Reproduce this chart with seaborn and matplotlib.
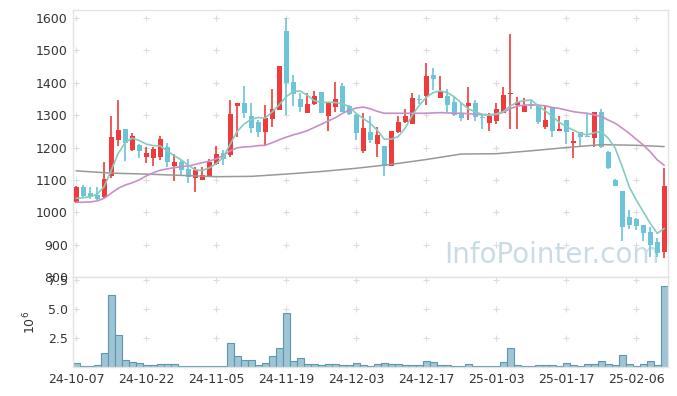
import matplotlib
matplotlib.use("Agg")
import numpy as np
import matplotlib.pyplot as plt
import seaborn as sns

# one label every 10 sessions (session index 0, 10, ... 80)
tick_labels = ["24-10-07", "24-10-22", "24-11-05", "24-11-19", "24-12-03",
               "24-12-17", "25-01-03", "25-01-17", "25-02-06"]

open_ = [1033, 1077, 1060, 1054, 1048, 1113, 1224, 1258, 1191, 1208,
         1172, 1169, 1172, 1202, 1144, 1154, 1133, 1107, 1100, 1113,
         1148, 1182, 1177, 1327, 1337, 1298, 1278, 1249, 1288, 1316,
         1561, 1402, 1350, 1306, 1334, 1371, 1299, 1324, 1391, 1327,
         1301, 1188, 1247, 1210, 1205, 1143, 1249, 1278, 1272, 1350,
         1360, 1425, 1353, 1360, 1342, 1304, 1327, 1337, 1295, 1275,
         1283, 1306, 1364, 1330, 1311, 1335, 1329, 1265, 1324, 1252,
         1286, 1213, 1247, 1237, 1229, 1311, 1185, 1100, 1066, 986,
         980, 961, 940, 907, 876]
high = [1080, 1084, 1077, 1077, 1155, 1297, 1347, 1258, 1244, 1211,
        1203, 1203, 1236, 1215, 1180, 1162, 1164, 1141, 1141, 1166,
        1205, 1191, 1347, 1337, 1391, 1339, 1286, 1330, 1382, 1453,
        1600, 1425, 1368, 1370, 1376, 1371, 1337, 1402, 1399, 1332,
        1308, 1306, 1296, 1265, 1205, 1252, 1296, 1318, 1370, 1363,
        1461, 1446, 1420, 1380, 1358, 1339, 1387, 1348, 1304, 1306,
        1337, 1387, 1550, 1355, 1352, 1345, 1335, 1329, 1324, 1296,
        1286, 1247, 1247, 1307, 1311, 1319, 1190, 1103, 1066, 1006,
        982, 961, 955, 919, 1136]
low = [1030, 1045, 1040, 1038, 1043, 1105, 1206, 1157, 1188, 1167,
       1152, 1143, 1162, 1141, 1097, 1116, 1092, 1064, 1100, 1113,
       1146, 1146, 1170, 1234, 1291, 1246, 1234, 1204, 1264, 1316,
       1301, 1327, 1311, 1306, 1332, 1306, 1250, 1311, 1311, 1300,
       1223, 1183, 1213, 1172, 1112, 1143, 1244, 1275, 1272, 1334,
       1332, 1379, 1353, 1311, 1296, 1281, 1286, 1283, 1257, 1252,
       1273, 1306, 1257, 1257, 1311, 1320, 1273, 1258, 1234, 1252,
       1211, 1169, 1203, 1232, 1203, 1200, 1133, 1080, 911, 948,
       946, 911, 863, 863, 858]
close = [1077, 1050, 1048, 1042, 1102, 1233, 1255, 1213, 1236, 1188,
         1183, 1196, 1226, 1156, 1154, 1131, 1108, 1131, 1115, 1155,
         1180, 1164, 1304, 1337, 1308, 1261, 1249, 1291, 1320, 1453,
         1401, 1365, 1324, 1334, 1358, 1306, 1337, 1350, 1311, 1304,
         1244, 1260, 1224, 1239, 1143, 1252, 1278, 1296, 1353, 1347,
         1422, 1412, 1376, 1330, 1301, 1291, 1337, 1294, 1291, 1299,
         1318, 1363, 1368, 1340, 1328, 1328, 1280, 1284, 1250, 1258,
         1249, 1221, 1234, 1233, 1311, 1203, 1138, 1082, 953, 961,
         958, 937, 899, 873, 1081]
# volume in millions of shares
volume = [0.34, 0.09, 0.09, 0.17, 1.20, 6.23, 2.73, 0.63, 0.46, 0.34,
          0.17, 0.17, 0.26, 0.26, 0.26, 0.06, 0.06, 0.06, 0.06, 0.06,
          0.06, 0.06, 2.05, 0.97, 0.63, 0.63, 0.17, 0.34, 0.97, 1.62,
          4.61, 0.51, 0.77, 0.26, 0.26, 0.17, 0.26, 0.26, 0.17, 0.17,
          0.31, 0.17, 0.09, 0.23, 0.31, 0.23, 0.23, 0.14, 0.14, 0.14,
          0.51, 0.43, 0.14, 0.14, 0.06, 0.06, 0.23, 0.06, 0.06, 0.06,
          0.06, 0.43, 1.62, 0.14, 0.06, 0.06, 0.14, 0.14, 0.14, 0.06,
          0.31, 0.14, 0.06, 0.23, 0.23, 0.51, 0.23, 0.14, 1.02, 0.23,
          0.06, 0.23, 0.51, 0.14, 6.94]

ma_short = [1043, 1045, 1048, 1056, 1079, 1129, 1182, 1215, 1229, 1222,
            1211, 1206, 1205, 1190, 1175, 1162, 1146, 1131, 1129, 1137,
            1150, 1170, 1210, 1250, 1273, 1287, 1293, 1291, 1310, 1332,
            1357, 1373, 1375, 1362, 1345, 1339, 1340, 1339, 1336, 1326,
            1305, 1290, 1275, 1254, 1226, 1226, 1234, 1260, 1300, 1330,
            1355, 1370, 1375, 1370, 1357, 1338, 1320, 1310, 1303, 1301,
            1304, 1311, 1328, 1340, 1345, 1347, 1329, 1314, 1296, 1278,
            1265, 1254, 1244, 1239, 1246, 1249, 1229, 1198, 1141, 1079,
            1038, 1002, 966, 935, 950]
ma_mid = [1031, 1031, 1032, 1035, 1043, 1059, 1074, 1084, 1091, 1100,
          1112, 1122, 1130, 1134, 1138, 1141, 1143, 1148, 1153, 1158,
          1165, 1175, 1190, 1199, 1202, 1203, 1206, 1207, 1215, 1224,
          1232, 1239, 1245, 1252, 1262, 1272, 1282, 1292, 1305, 1316,
          1322, 1325, 1320, 1312, 1306, 1306, 1306, 1306, 1306, 1306,
          1306, 1307, 1308, 1307, 1306, 1306, 1305, 1303, 1301, 1301,
          1302, 1309, 1320, 1328, 1331, 1332, 1331, 1329, 1324, 1321,
          1316, 1311, 1308, 1306, 1301, 1296, 1285, 1275, 1260, 1244,
          1226, 1208, 1187, 1162, 1145]
ma_long_idx = [0, 5, 10, 15, 20, 25, 30, 35, 40, 45, 50, 55, 60, 65, 70, 75, 80, 84]
ma_long = [1128, 1121, 1118, 1114, 1110, 1111, 1118, 1126, 1136, 1148,
           1163, 1180, 1181, 1190, 1200, 1209, 1207, 1203]

UP = "#ef3b3b"
DOWN = "#6cc4d9"
TXT = "#333333"

sns.set_theme(style="white")
plt.rcParams["font.family"] = ["DejaVu Sans"]

fig = plt.figure(figsize=(6.77, 3.96), dpi=100)
ax = fig.add_axes([0.1083, 0.3005, 0.878, 0.6742])
axv = fig.add_axes([0.1083, 0.0732, 0.878, 0.2273], sharex=ax)

x = np.arange(len(close))
o = np.array(open_, float)
c = np.array(close, float)
up = c >= o
colors = np.where(up, UP, DOWN)

# watermark behind everything
ax.text(0.987, 0.083, "InfoPointer.com", transform=ax.transAxes, ha="right",
        va="center", fontsize=20, color="#c9dce6", zorder=0)

# candles
ax.vlines(x, low, high, colors=colors, linewidth=1.2, zorder=2)
body = np.maximum(np.abs(c - o), 2.5)
ax.bar(x, body, bottom=np.minimum(o, c), width=0.72, color=colors,
       linewidth=0, zorder=3)

# moving averages
sns.lineplot(x=ma_long_idx, y=ma_long, ax=ax, color="#999999", linewidth=1.1, zorder=4)
sns.lineplot(x=x, y=ma_mid, ax=ax, color="#c98fc6", linewidth=1.2, zorder=4)
sns.lineplot(x=x, y=ma_short, ax=ax, color="#86cbbf", linewidth=1.2, zorder=4)

ax.set_ylim(800, 1625)
ax.set_xlim(-0.4, 84.5)
ax.set_yticks(range(800, 1601, 100))

# volume
axv.bar(x, volume, width=1.0, color="#9ec4d5", edgecolor="#5d98b0",
        linewidth=0.8, zorder=2)
axv.set_ylim(0, 7.74)
axv.set_yticks([2.5, 5.0, 7.5])
axv.set_yticklabels(["2.5", "5.0", "7.5"])
axv.set_ylabel("$10^6$", color=TXT, fontsize=9, labelpad=7)

xt = np.arange(0, 81, 10)
axv.set_xticks(xt)
axv.set_xticklabels(tick_labels)

for a in (ax, axv):
    for s in a.spines.values():
        s.set_color("#e3e3e3")
        s.set_linewidth(1.0)
    a.tick_params(length=0, colors=TXT, labelsize=9, pad=4)
    a.grid(False)
    a.set_xlabel("")
ax.tick_params(axis="x", labelbottom=False)

# small "+" grid marks at tick intersections
gx, gy = np.meshgrid(xt, np.arange(900, 1601, 100))
ax.plot(gx.ravel(), gy.ravel(), ls="none", marker="+", ms=5, mew=0.8,
        color="#dcdcdc", zorder=1)
gx, gy = np.meshgrid(xt, [2.5, 5.0, 7.5])
axv.plot(gx.ravel(), gy.ravel(), ls="none", marker="+", ms=5, mew=0.8,
         color="#dcdcdc", zorder=1)

fig.savefig("out.png", dpi=100)
